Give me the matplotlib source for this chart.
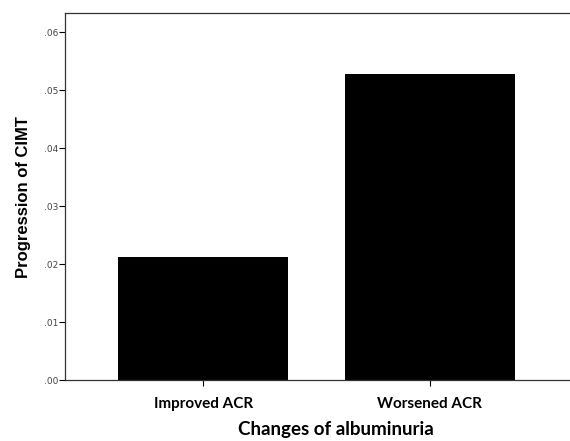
import matplotlib
matplotlib.use('Agg')
from matplotlib.pyplot import figure
from matplotlib.ticker import FuncFormatter

categories = ['Improved ACR', 'Worsened ACR']
progression = [0.0212, 0.0527]
yticks = [0.00, 0.01, 0.02, 0.03, 0.04, 0.05, 0.06]

fig = figure(figsize=(5.70, 4.41), dpi=100)
ax = fig.add_axes([0.114, 0.138, 0.95, 0.8325])

ax.bar(range(len(categories)), progression, width=0.752, color='black')

ax.set_xlim(-0.61, 1.78)
ax.set_ylim(0, 0.0633)
ax.set_yticks(yticks)
ax.yaxis.set_major_formatter(FuncFormatter(lambda v, p: '{:.2f}'.format(v).lstrip('0')))
ax.set_xticks(range(len(categories)))
ax.set_xticklabels(categories, family='Lato', fontweight='bold', fontsize=11)

ax.tick_params(axis='y', labelsize=6.5, labelcolor='#444444', length=4, width=0.8, pad=1)
ax.tick_params(axis='x', length=4, width=0.8, pad=8)
for side in ('left', 'bottom', 'top'):
    ax.spines[side].set_linewidth(0.9)
    ax.spines[side].set_color('#333333')
ax.spines['right'].set_visible(False)

ax.set_ylabel('Progression of CIMT', family='Liberation Sans', fontweight='bold',
              fontsize=12, labelpad=9)
ax.set_xlabel('Changes of albuminuria', family='Lato', fontweight='bold',
              fontsize=13.5, labelpad=7)

fig.savefig('out.png', dpi=100)
